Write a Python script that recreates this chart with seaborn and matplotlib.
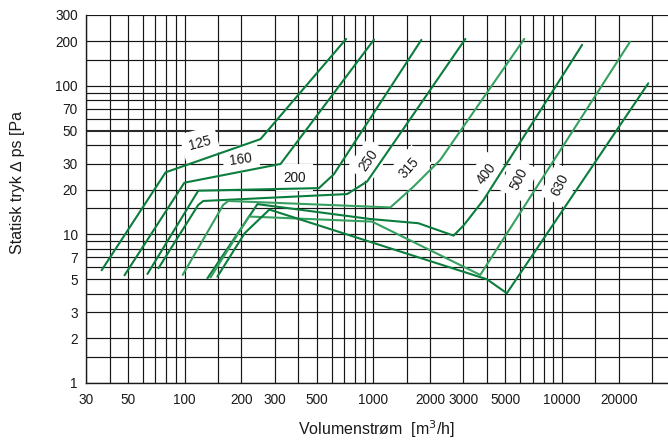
import matplotlib
matplotlib.use("Agg")
import matplotlib.pyplot as plt
import seaborn as sns
import pandas as pd
from matplotlib.ticker import FixedLocator, NullLocator, FixedFormatter

# ---- data (volume flow m3/h, static pressure Pa) ----
q125 = [36.3, 79.3, 252, 717]
p125 = [5.74, 26.2, 43.8, 207]
q160 = [48, 99.6, 322, 1008]
p160 = [5.31, 22.3, 29.8, 205]
q200 = [63.5, 118, 514, 617, 1795]
p200 = [5.42, 19.7, 20.5, 25.4, 204]
q250 = [72.6, 118, 125.6, 726, 926, 3070]
p250 = [5.92, 15.8, 16.8, 18.7, 22.7, 207]
q315 = [97.6, 160, 170, 1230, 1633, 2259, 6300]
p315 = [5.34, 15.8, 16.8, 15.2, 21.0, 31.7, 207]
q400 = [132, 243, 964, 1730, 2660, 3006, 3836, 12770]
p400 = [5.07, 16.0, 12.7, 11.9, 9.82, 11.5, 17.1, 189]
q500 = [137, 219, 984, 3683, 22900]
p500 = [5.13, 13.2, 12.2, 5.34, 198]
q630 = [149, 208, 281, 3998, 5094, 28600]
p630 = [5.2, 10.2, 14.7, 4.99, 4.02, 104]

sizes = ["125", "160", "200", "250", "315", "400", "500", "630"]
qs = [q125, q160, q200, q250, q315, q400, q500, q630]
ps = [p125, p160, p200, p250, p315, p400, p500, p630]

lab_q = [120.5, 198.6, 382, 944, 1555, 3963, 5875, 9750]
lab_p = [41.1, 32.2, 24.1, 31.3, 28.2, 25.5, 23.5, 21.5]
lab_rot = [15, 8, 0, 55, 48, 52, 63, 63]

x_grid = [30, 40, 50, 60, 70, 80, 90, 100, 150, 200, 300, 400, 500, 600, 700,
          800, 900, 1000, 1500, 2000, 3000, 4000, 5000, 6000, 7000, 8000, 9000,
          10000, 15000, 20000, 30000]
x_labels = [30, 50, 100, 200, 300, 500, 1000, 2000, 3000, 5000, 10000, 20000]
y_grid = [1, 1.5, 2, 3, 4, 5, 6, 7, 8, 9, 10, 15, 20, 30, 40, 50, 60, 70, 80,
          90, 100, 150, 200, 300]
y_labels = [1, 2, 3, 5, 7, 10, 20, 30, 50, 70, 100, 200, 300]

dark = "#0b7d3c"
light = "#35a060"
colors = [dark, dark, dark, dark, light, dark, light, dark]

rows = []
for s, q, p in zip(sizes, qs, ps):
    for i, (a, b) in enumerate(zip(q, p)):
        rows.append({"size": s, "order": i, "q": a, "p": b})
df = pd.DataFrame(rows)

sns.set_style("white")
plt.rcParams["font.family"] = ["Liberation Sans", "DejaVu Sans"]

fig = plt.figure(figsize=(6.68, 4.41), dpi=100)
ax = fig.add_axes([86 / 668, 58 / 441, 1 - 86 / 668, (383 - 15) / 441])

sns.lineplot(data=df, x="q", y="p", hue="size", palette=dict(zip(sizes, colors)),
             units="size", estimator=None, sort=False, legend=False,
             linewidth=1.5, ax=ax, zorder=3)

ax.set_xscale("log")
ax.set_yscale("log")
ax.set_xlim(30, 36400)
ax.set_ylim(1, 300)

ax.xaxis.set_major_locator(FixedLocator(x_grid))
ax.xaxis.set_major_formatter(FixedFormatter([str(v) if v in x_labels else "" for v in x_grid]))
ax.xaxis.set_minor_locator(NullLocator())
ax.yaxis.set_major_locator(FixedLocator(y_grid))
ax.yaxis.set_major_formatter(FixedFormatter([(str(int(v)) if v in y_labels else "") for v in y_grid]))
ax.yaxis.set_minor_locator(NullLocator())

ax.set_axisbelow(True)
ax.grid(True, which="major", color="#161616", linewidth=0.85)
for v, gl in zip(y_grid, ax.get_ygridlines()):
    if v == 50:
        gl.set_linewidth(1.5)
        gl.set_color("#2a2a2a")

ax.tick_params(axis="both", length=0, labelsize=9.8, colors="#1a1a1a", pad=6)
ax.tick_params(axis="x", pad=7)
for side in ["top", "right"]:
    ax.spines[side].set_visible(False)
for side in ["left", "bottom"]:
    ax.spines[side].set_color("#1a1a1a")
    ax.spines[side].set_linewidth(1.0)

for t, xq, yp, r in zip(sizes, lab_q, lab_p, lab_rot):
    ax.text(xq, yp, t, rotation=r, ha="center", va="center", fontsize=9.8,
            color="#1a1a1a", zorder=2, rotation_mode="anchor",
            bbox=dict(boxstyle="square,pad=0.5", fc="white", ec="none"))

ax.set_ylabel("")
ax.set_xlabel(r"Volumenstrøm  [m$^{3}$/h]", fontsize=11.5, labelpad=8, color="#1a1a1a")
fig.text(18 / 668, 1 - 183 / 441, "Statisk tryk ∆ ps [Pa", rotation=90,
         ha="center", va="center", fontsize=11.5, color="#1a1a1a")

fig.savefig("out.png", dpi=100)
